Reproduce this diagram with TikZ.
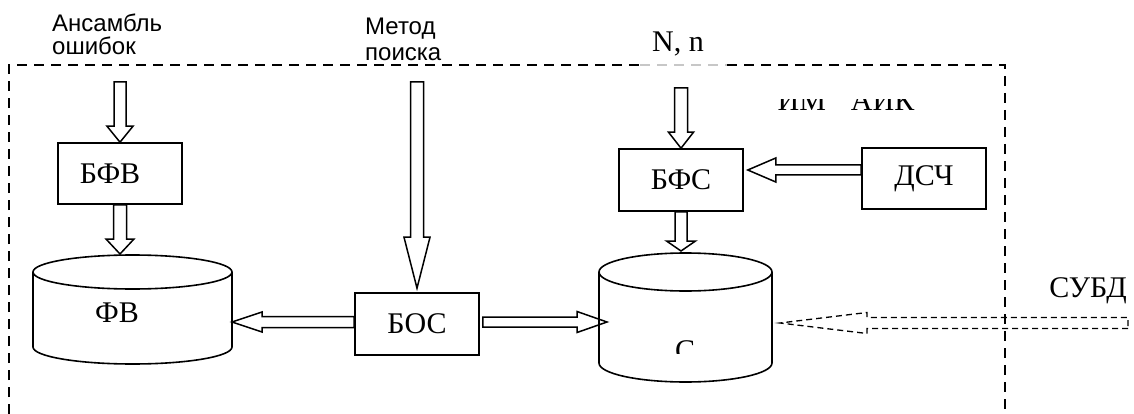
\documentclass[tikz,border=0pt]{standalone}
\usepackage{fontspec}
\setmainfont{Liberation Serif}
\newfontfamily\labelsans{Liberation Sans}
\usetikzlibrary{calc}

\tikzset{
  box/.style={draw, line width=1.6pt, minimum width=124pt, minimum height=61pt, inner sep=0pt, font=\fontsize{30}{30}\selectfont},
  blk/.style={draw, line width=1.5pt, line join=miter},
  blkdash/.style={line width=1.3pt, dash pattern=on 6pt off 4pt},
  frame/.style={line width=2.4pt, dash pattern=on 10pt off 7pt},
  cyl/.style={draw, line width=1.6pt},
  serif/.style={font=\fontsize{30}{30}\selectfont, inner sep=0pt},
  sanslbl/.style={font=\labelsans\fontsize{24}{23}\selectfont, align=left, inner sep=0pt, anchor=north west},
}

\newcommand\blockarrow[6][]{%
  \coordinate (baA) at (#2);
  \coordinate (baB) at (#3);
  \coordinate (baH) at ($(baB)!#6!(baA)$);
  \draw[blk,#1] ($(baA)!#4!90:(baB)$) -- ($(baH)!#4!90:(baB)$) -- ($(baH)!#5!90:(baB)$) -- (baB) -- ($(baH)!#5!-90:(baB)$) -- ($(baH)!#4!-90:(baB)$) -- ($(baA)!#4!-90:(baB)$) -- cycle;}

\begin{document}
\begin{tikzpicture}[x=1pt,y=-1pt]
\useasboundingbox (0,0) rectangle (1134,414);

% dashed frame
\draw[frame] (9,414) -- (9,65) -- (640,65);
\draw[frame, black!22] (640,65) -- (727,65);
\draw[frame] (727,65) -- (1005,65) -- (1005,414);

% outside labels
\node[sanslbl] (ans) at (52,14) {Ансамбль\\ошибок};
\node[sanslbl, font=\labelsans\fontsize{24}{26}\selectfont] (met) at (365,18) {Метод\\поиска};
\node[serif, anchor=base] (nn) at (678,52) {N, n};
\node[serif, anchor=base] (subd) at (1088,297) {СУБД};

\begin{scope}
  \clip (700,100) rectangle (1000,125);
  \node[serif, anchor=base] (imaik) at (846,111) {ИМ\hspace{25pt}АИК};
\end{scope}

% boxes
\node[box] (bfv) at (120,173.5) {\hspace*{-20pt}БФВ};
\node[box, minimum height=62pt] (bos) at (417,324) {БОС};
\node[box, minimum height=62pt] (bfs) at (681,180) {БФС};
\node[box] (dsc) at (924,178.5) {ДСЧ};

% cylinder ФВ
\draw[cyl] (132.5,272) ellipse [x radius=99.5pt, y radius=17pt];
\draw[cyl] (33,272) -- (33,347) arc[start angle=180, end angle=360, x radius=99.5pt, y radius=17pt] -- (232,272);
\node[serif] (fvt) at (117,313) {ФВ};

% cylinder С
\draw[cyl] (685.5,272) ellipse [x radius=86.5pt, y radius=19pt];
\draw[cyl] (599,272) -- (599,363) arc[start angle=180, end angle=360, x radius=86.5pt, y radius=19pt] -- (772,272);
\begin{scope}
  \clip (600,300) rectangle (770,353);
  \node[serif, anchor=base] (ct) at (685,360) {С};
\end{scope}

% connector ends
\coordinate (ansend) at (120,82);
\coordinate (metend) at (417,82);
\coordinate (nnend) at (681,88);
\coordinate (subdend) at (1128,323);
\coordinate (fvtop) at (120,254);
\coordinate (fvright) at (232,322);
\coordinate (ctop) at (681,251);
\coordinate (cleft) at (607,322);
\coordinate (cright) at (780,323);

% block arrows
\blockarrow{ansend}{bfv.north}{6pt}{13pt}{16pt}
\blockarrow{bfv.south}{fvtop}{6.5pt}{14pt}{15pt}
\blockarrow{metend}{$(bos.north)+(0,-4)$}{6.5pt}{13pt}{51pt}
\blockarrow{$(bos.west)+(0,-2)$}{fvright}{5.5pt}{10pt}{30pt}
\blockarrow{$(bos.east)+(3,-2)$}{cleft}{5pt}{10.5pt}{30pt}
\blockarrow{nnend}{bfs.north}{6.5pt}{12.5pt}{16pt}
\blockarrow{bfs.south}{ctop}{6pt}{14.5pt}{10pt}
\blockarrow{$(dsc.west)+(0,-8.5)$}{$(bfs.east)+(4,-10)$}{5pt}{12pt}{28pt}
\blockarrow[blkdash]{subdend}{cright}{5.5pt}{10.5pt}{87pt}
\end{tikzpicture}
\end{document}
